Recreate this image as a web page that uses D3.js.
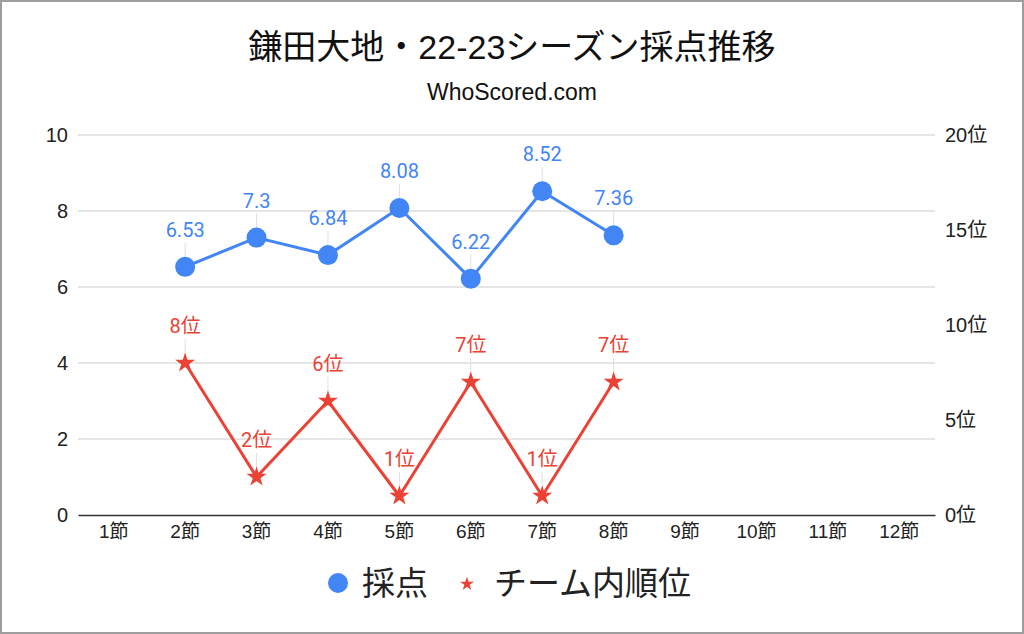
<!DOCTYPE html>
<html>
<head>
<meta charset="utf-8">
<script src="https://cdn.jsdelivr.net/npm/d3@7"></script>
<style>
  body { margin: 0; background: #fff; }
  svg text { font-family: "Liberation Sans", Arial, "Noto Sans CJK JP", sans-serif; }
</style>
</head>
<body>
<div id="chart"></div>
<script>
const rounds = ["1節", "2節", "3節", "4節", "5節", "6節", "7節", "8節", "9節", "10節", "11節", "12節"];
const scores = [null, 6.53, 7.3, 6.84, 8.08, 6.22, 8.52, 7.36, null, null, null, null];
const ranks = [null, 8, 2, 6, 1, 7, 1, 7, null, null, null, null];
const leftTicks = [0, 2, 4, 6, 8, 10];
const rightTicks = [0, 5, 10, 15, 20];

let width = 1024, height = 634;
let margin = { top: 135, right: 89, bottom: 119, left: 78 };
let blue = "#4285f4", red = "#ea4335";

let svg = d3.select("#chart")
    .append("svg")
    .attr("width", width)
    .attr("height", height);

svg.append("rect")
    .attr("x", 1).attr("y", 1)
    .attr("width", width - 2).attr("height", height - 2)
    .attr("fill", "#fff")
    .attr("stroke", "#9e9e9e")
    .attr("stroke-width", 2);

let x = d3.scaleBand()
    .domain(rounds)
    .range([margin.left, width - margin.right]);
let y = d3.scaleLinear()
    .domain([0, 10])
    .range([height - margin.bottom, margin.top]);
let y2 = d3.scaleLinear()
    .domain([0, 20])
    .range([height - margin.bottom, margin.top]);

// title
svg.append("text")
    .attr("x", 512).attr("y", 59)
    .attr("text-anchor", "middle")
    .attr("font-size", 34)
    .attr("fill", "#111")
    .text("鎌田大地・22-23シーズン採点推移");
svg.append("text")
    .attr("x", 512).attr("y", 100)
    .attr("text-anchor", "middle")
    .attr("font-size", 23)
    .attr("fill", "#111")
    .text("WhoScored.com");

// grid
svg.append("g")
    .selectAll("line")
    .data(leftTicks.filter(d => d > 0))
    .enter()
    .append("line")
    .attr("x1", margin.left).attr("x2", width - margin.right)
    .attr("y1", d => y(d)).attr("y2", d => y(d))
    .attr("stroke", "#cccccc")
    .attr("stroke-width", 1);

// left axis
let gl = svg.append("g")
    .attr("transform", "translate(" + (margin.left - 10) + ",0)")
    .call(d3.axisLeft(y).tickValues(leftTicks).tickSize(0).tickPadding(0));
gl.select(".domain").remove();
gl.selectAll("text").attr("font-size", 20).attr("fill", "#222");

// right axis
let gr = svg.append("g")
    .attr("transform", "translate(" + (width - margin.right + 10) + ",0)")
    .call(d3.axisRight(y2).tickValues(rightTicks).tickFormat(d => d + "位").tickSize(0).tickPadding(0));
gr.select(".domain").remove();
gr.selectAll("text").attr("font-size", 20).attr("fill", "#222");

// x axis
let gx = svg.append("g")
    .attr("transform", "translate(0," + (height - margin.bottom) + ")")
    .call(d3.axisBottom(x).tickSize(0).tickPadding(10));
gx.select(".domain").attr("stroke", "#333").attr("stroke-width", 1.5);
gx.selectAll("text").attr("font-size", 19).attr("fill", "#222");

// series
let scorePts = rounds.map((r, i) => ({ r: r, v: scores[i] })).filter(d => d.v != null);
let rankPts = rounds.map((r, i) => ({ r: r, v: ranks[i] })).filter(d => d.v != null);
let cx = d => x(d.r) + x.bandwidth() / 2;

// leader lines
svg.append("g").selectAll("line")
    .data(scorePts).enter().append("line")
    .attr("x1", cx).attr("x2", cx)
    .attr("y1", d => y(d.v) - 24).attr("y2", d => y(d.v))
    .attr("stroke", "#e0e0e0").attr("stroke-width", 1);
svg.append("g").selectAll("line")
    .data(rankPts).enter().append("line")
    .attr("x1", cx).attr("x2", cx)
    .attr("y1", d => y2(d.v) - 24).attr("y2", d => y2(d.v))
    .attr("stroke", "#e0e0e0").attr("stroke-width", 1);

let line1 = d3.line().x(cx).y(d => y(d.v));
let line2 = d3.line().x(cx).y(d => y2(d.v));

svg.append("path")
    .datum(scorePts)
    .attr("d", line1)
    .attr("fill", "none")
    .attr("stroke", blue)
    .attr("stroke-width", 3)
    .attr("stroke-linejoin", "round");
svg.append("path")
    .datum(rankPts)
    .attr("d", line2)
    .attr("fill", "none")
    .attr("stroke", red)
    .attr("stroke-width", 3)
    .attr("stroke-linejoin", "round");

svg.append("g").selectAll("circle")
    .data(scorePts).enter().append("circle")
    .attr("cx", cx).attr("cy", d => y(d.v))
    .attr("r", 10)
    .attr("fill", blue);

svg.append("g").selectAll("path")
    .data(rankPts).enter().append("path")
    .attr("transform", d => "translate(" + cx(d) + "," + y2(d.v) + ")")
    .attr("d", d3.symbol().type(d3.symbolStar).size(125))
    .attr("fill", red);

// data labels
svg.append("g").selectAll("text")
    .data(scorePts).enter().append("text")
    .attr("x", cx).attr("y", d => y(d.v) - 30)
    .attr("text-anchor", "middle")
    .attr("font-size", 20)
    .style("font-family", "Roboto, 'Noto Sans CJK JP', sans-serif")
    .attr("fill", blue)
    .text(d => String(d.v));
svg.append("g").selectAll("text")
    .data(rankPts).enter().append("text")
    .attr("x", cx).attr("y", d => y2(d.v) - 30)
    .attr("text-anchor", "middle")
    .attr("font-size", 20)
    .style("font-family", "Roboto, 'Noto Sans CJK JP', sans-serif")
    .attr("fill", red)
    .text(d => d.v + "位");

// legend
let lg = svg.append("g");
lg.append("circle").attr("cx", 338).attr("cy", 583).attr("r", 10).attr("fill", blue);
lg.append("text").attr("x", 362).attr("y", 595).attr("font-size", 33).attr("fill", "#222").text("採点");
lg.append("path")
    .attr("transform", "translate(467,584)")
    .attr("d", d3.symbol().type(d3.symbolStar).size(60))
    .attr("fill", red);
lg.append("text").attr("x", 494).attr("y", 595).attr("font-size", 33).attr("fill", "#222").text("チーム内順位");
</script>
</body>
</html>
